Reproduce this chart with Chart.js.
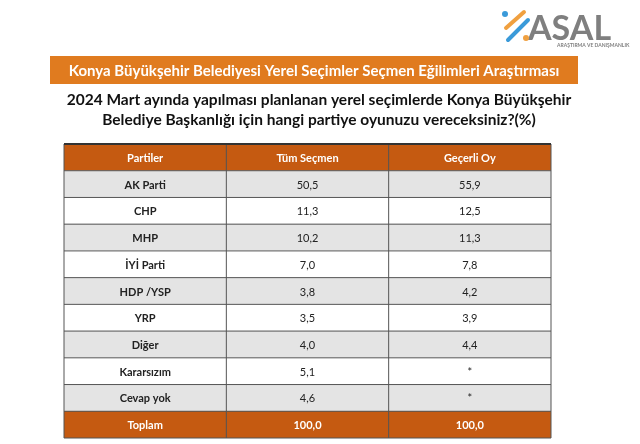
<!DOCTYPE html>
<html><head><meta charset="utf-8">
<script src="https://cdn.jsdelivr.net/npm/chart.js@4"></script>
<style>html,body{margin:0;padding:0;background:#fff}#c{display:block}</style>
</head><body>
<div style="width:640px;height:444px"><canvas id="c"></canvas></div>
<script>
const headers = ["Partiler", "Tüm Seçmen", "Geçerli Oy"];
const parties = ["AK Parti", "CHP", "MHP", "İYİ Parti", "HDP /YSP", "YRP", "Diğer", "Kararsızım", "Cevap yok"];
const allVoters = ["50,5", "11,3", "10,2", "7,0", "3,8", "3,5", "4,0", "5,1", "4,6"];
const validVotes = ["55,9", "12,5", "11,3", "7,8", "4,2", "3,9", "4,4", "*", "*"];
const totalRow = ["Toplam", "100,0", "100,0"];
const banner = "Konya Büyükşehir Belediyesi Yerel Seçimler Seçmen Eğilimleri Araştırması";
const question = ["2024 Mart ayında yapılması planlanan yerel seçimlerde Konya Büyükşehir", "Belediye Başkanlığı için hangi partiye oyunuzu vereceksiniz?(%)"];

const rowLabels = ["__h", ...parties, totalRow[0]];
const rowCells = [headers, ...parties.map((p,i)=>[p, allVoters[i], validVotes[i]]), totalRow];
const colors = rowLabels.map((r,i)=> i===0 ? '#c55a11' : i===rowLabels.length-1 ? '#c55a11' : (i%2===1 ? '#e4e4e4' : '#ffffff'));

const F = 'Lato, "Open Sans", sans-serif';
const tablePlugin = {
  id:'tbl',
  beforeDraw(chart){
    const ctx = chart.ctx;
    ctx.save();
    ctx.fillStyle='#fff'; ctx.fillRect(0,0,chart.width,chart.height);
    ctx.fillStyle='#7f7f7f'; ctx.font='bold 34px '+F; ctx.textAlign='left'; ctx.textBaseline='alphabetic';
    ctx.fillText('ASAL',528,40);
    ctx.font='bold 5px '+F; ctx.fillText('ARAŞTIRMA VE DANIŞMANLIK',557,47);
    ctx.lineWidth=4; ctx.lineCap='round';
    ctx.strokeStyle='#f0a040'; ctx.beginPath(); ctx.moveTo(506,28); ctx.lineTo(524,12); ctx.stroke();
    ctx.strokeStyle='#3a9ad9'; ctx.beginPath(); ctx.moveTo(508,40); ctx.lineTo(528,20); ctx.stroke();
    ctx.fillStyle='#3a9ad9'; ctx.beginPath(); ctx.arc(505,14,3,0,7); ctx.fill();
    ctx.fillStyle='#f0a040'; ctx.beginPath(); ctx.arc(526,38,3,0,7); ctx.fill();
    ctx.fillStyle='#e07b1f'; ctx.fillRect(50,56,528,28);
    ctx.fillStyle='#fff'; ctx.font='bold 15px '+F; ctx.textAlign='center'; ctx.textBaseline='middle';
    ctx.fillText(banner,314,71);
    ctx.fillStyle='#111'; ctx.font='bold 15.5px '+F;
    ctx.fillText(question[0],319,100); ctx.fillText(question[1],319,120);
    ctx.restore();
  },
  afterDatasetsDraw(chart){
    const ctx=chart.ctx, x=chart.scales.x, y=chart.scales.y;
    const h = Math.abs(y.getPixelForValue(1)-y.getPixelForValue(0));
    ctx.save();
    ctx.strokeStyle='#555'; ctx.lineWidth=1;
    rowCells.forEach((cells,r)=>{
      const cy=y.getPixelForValue(r);
      const top=cy-h/2;
      ctx.beginPath(); ctx.moveTo(x.getPixelForValue(0),top); ctx.lineTo(x.getPixelForValue(3),top); ctx.stroke();
      cells.forEach((t,c)=>{
        const cx=(x.getPixelForValue(c)+x.getPixelForValue(c+1))/2;
        const special = r===0 || r===rowCells.length-1;
        ctx.fillStyle = special ? '#fff' : '#222';
        ctx.font = ((special||c===0)?'bold ':'')+'11px '+F;
        ctx.textAlign='center'; ctx.textBaseline='middle';
        ctx.fillText(t,cx,cy+1);
      });
    });
    const top=y.getPixelForValue(0)-h/2, bot=y.getPixelForValue(rowCells.length-1)+h/2;
    for(let c=0;c<=3;c++){ctx.beginPath();ctx.moveTo(x.getPixelForValue(c),top);ctx.lineTo(x.getPixelForValue(c),bot);ctx.stroke();}
    ctx.beginPath();ctx.moveTo(x.getPixelForValue(0),bot);ctx.lineTo(x.getPixelForValue(3),bot);ctx.stroke();
    ctx.strokeStyle='#333';ctx.lineWidth=2;ctx.beginPath();ctx.moveTo(x.getPixelForValue(0),top);ctx.lineTo(x.getPixelForValue(3),top);ctx.stroke();
    ctx.restore();
  }
};

new Chart(document.getElementById('c'),{
  type:'bar',
  data:{labels:rowLabels,datasets:[{data:rowLabels.map(()=>[0,3]),backgroundColor:colors,barPercentage:1,categoryPercentage:1,borderWidth:0}]},
  options:{
    indexAxis:'y', responsive:true, maintainAspectRatio:false, animation:false,
    layout:{padding:{left:64,right:89,top:144,bottom:6}},
    plugins:{legend:{display:false},tooltip:{enabled:false},title:{display:false}},
    scales:{x:{type:'linear',min:0,max:3,display:false},y:{type:'category',display:false,offset:true}}
  },
  plugins:[tablePlugin]
});
</script></body></html>
